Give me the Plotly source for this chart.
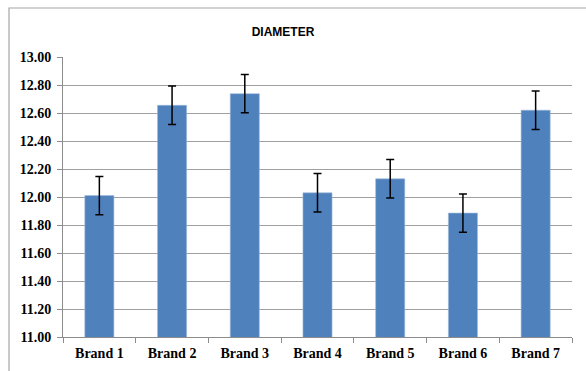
import plotly.graph_objects as go

brands = ["Brand 1", "Brand 2", "Brand 3", "Brand 4", "Brand 5", "Brand 6", "Brand 7"]
diameter = [12.01, 12.655, 12.738, 12.03, 12.13, 11.885, 12.62]
err = [0.137, 0.137, 0.137, 0.137, 0.137, 0.137, 0.138]
yticks = [11.0, 11.2, 11.4, 11.6, 11.8, 12.0, 12.2, 12.4, 12.6, 12.8, 13.0]

W, H = 586, 371
L, R, T, B = 63, 14, 57, 34
pw, ph = W - L - R, H - T - B

fig = go.Figure(go.Bar(
    x=brands, y=diameter, width=0.4,
    marker=dict(color="#4F81BD", line=dict(color="#9DB8DA", width=0.6)),
    error_y=dict(type="data", array=err, visible=True, color="black", thickness=1.5, width=4),
))

def px_x(p):
    return (p - L) / pw

def px_y(p):
    return (H - B - p) / ph

fig.add_shape(type="rect", xref="paper", yref="paper",
              x0=px_x(9), x1=px_x(600), y0=px_y(400), y1=px_y(8),
              line=dict(color="#A6A6A6", width=1.2), fillcolor="rgba(0,0,0,0)", layer="below")

tick_font = dict(family="Liberation Serif, Times New Roman", size=14, color="black", weight="bold")

fig.update_layout(
    width=W, height=H,
    margin=dict(l=L, r=R, t=T, b=B),
    paper_bgcolor="white", plot_bgcolor="white",
    showlegend=False,
    title=dict(text="<b>DIAMETER</b>", x=283 / W, xanchor="center", y=1 - 32 / H, yanchor="middle",
               font=dict(family="Liberation Sans, Arial", size=12, color="black")),
)
fig.update_xaxes(
    showline=True, linecolor="#8C8C8C", linewidth=1,
    ticks="outside", tickson="boundaries", ticklen=5, tickcolor="#8C8C8C",
    tickfont=tick_font, ticklabelstandoff=3,
    showgrid=False, automargin=False,
)
fig.update_yaxes(
    range=[11.0, 13.0], tickvals=yticks, tickformat=".2f",
    showline=True, linecolor="#8C8C8C", linewidth=1,
    ticks="outside", ticklen=5, tickcolor="#8C8C8C",
    showgrid=True, gridcolor="#A0A0A0", gridwidth=1,
    tickfont=tick_font, ticklabelstandoff=3,
    zeroline=False, automargin=False,
)

fig.write_html("out.html", config={"displayModeBar": False},
               post_script="document.body.style.margin='0';document.body.style.padding='0';")
